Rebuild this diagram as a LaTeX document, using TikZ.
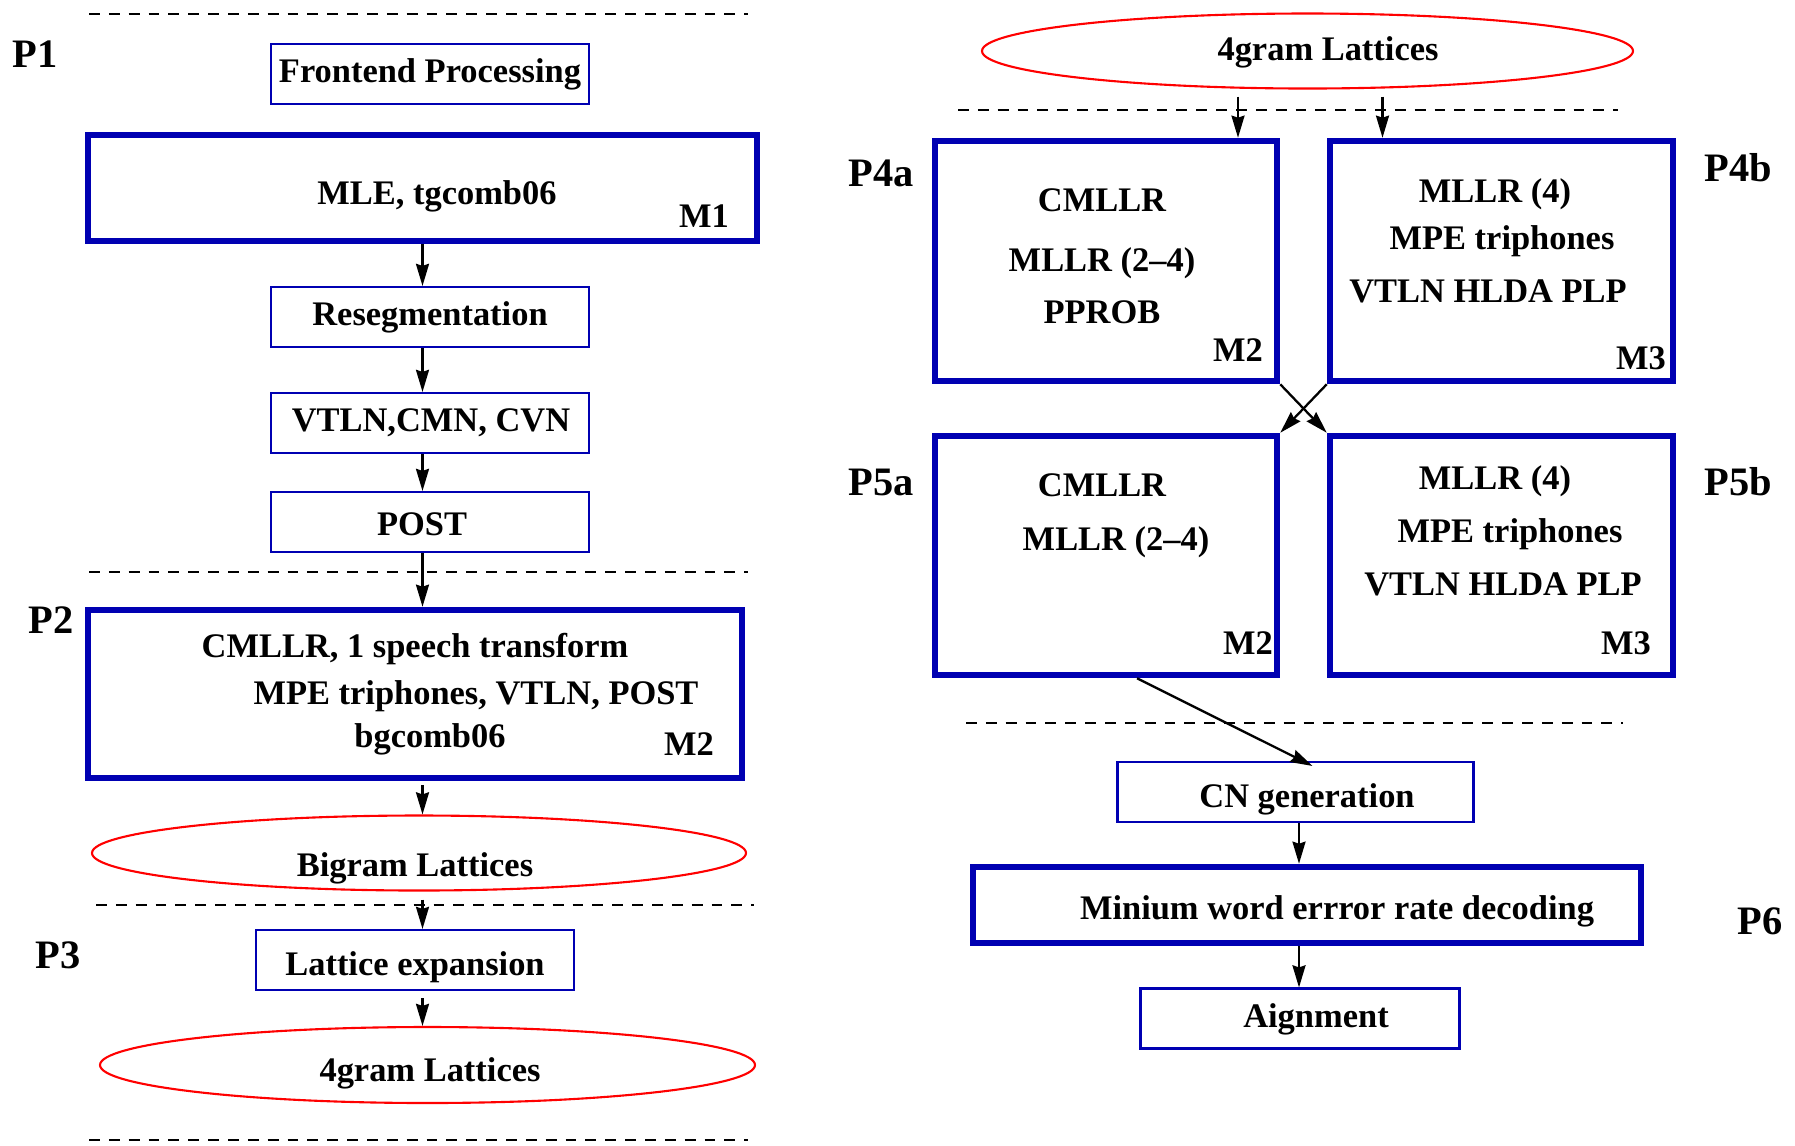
\documentclass[tikz,border=0pt]{standalone}
\usepackage{fontspec}
\setmainfont{Liberation Serif}
\usepackage{xcolor}
\usetikzlibrary{arrows.meta, positioning, calc, shapes.geometric}
\definecolor{boxblue}{RGB}{0,0,178}

\begin{document}
\begin{tikzpicture}[>={Stealth[length=6.3pt, width=3.7pt, inset=0.6pt]},
  every node/.style={font=\bfseries\fontsize{9.8}{12}\selectfont},
  thinbox/.style={draw=boxblue, line width=0.6pt, minimum width=3.18cm, minimum height=0.6cm, inner sep=0pt},
  thickbox/.style={draw=boxblue, line width=1.85pt, inner sep=0pt},
  lat/.style={draw=red, ellipse, line width=0.6pt, inner sep=0pt},
  txt/.style={anchor=base, inner sep=0pt},
  plabel/.style={anchor=base, inner sep=0pt, font=\bfseries\fontsize{11.5}{14}\selectfont},
  sep/.style={line width=0.6pt, dash pattern=on 3.1pt off 2.55pt},
  link/.style={->, line width=0.65pt}]
  \useasboundingbox (0,0) rectangle (17.95,-11.45);

  \draw[sep] (0.89,-0.14) -- (7.48,-0.14);
  \draw[sep] (0.89,-5.72) -- (7.48,-5.72);
  \draw[sep] (0.96,-9.05) -- (7.54,-9.05);
  \draw[sep] (0.89,-11.40) -- (7.48,-11.40);
  \draw[sep] (9.58,-1.10) -- (16.18,-1.10);
  \draw[sep] (9.66,-7.23) -- (16.23,-7.23);

  \node[plabel] (p1) at (0.35,-0.67) {P1};
  \node[plabel] (p2l) at (0.51,-6.33) {P2};
  \node[plabel] (p3) at (0.58,-9.68) {P3};
  \node[plabel] (p4al) at (8.81,-1.86) {P4a};
  \node[plabel] (p4bl) at (17.38,-1.81) {P4b};
  \node[plabel] (p5al) at (8.81,-4.95) {P5a};
  \node[plabel] (p5bl) at (17.38,-4.95) {P5b};
  \node[plabel] (p6) at (17.60,-9.34) {P6};

  \node[thinbox] (front) at (4.30,-0.74) {};
  \node[txt] (frontT) at (4.30,-0.82) {Frontend Processing};
  \node[thickbox, minimum width=6.69cm, minimum height=1.06cm] (m1) at (4.225,-1.88) {};
  \node[txt] (m1T) at (4.37,-2.04) {MLE, tgcomb06};
  \node[txt] (m1M) at (7.04,-2.27) {M1};
  \node[thinbox] (reseg) at (4.30,-3.17) {};
  \node[txt] (resegT) at (4.30,-3.25) {Resegmentation};
  \node[thinbox] (vtln) at (4.30,-4.23) {};
  \node[txt] (vtlnT) at (4.31,-4.31) {VTLN,CMN, CVN};
  \node[thinbox] (post) at (4.30,-5.22) {};
  \node[txt] (postT) at (4.22,-5.35) {POST};
  \node[thickbox, minimum width=6.54cm, minimum height=1.68cm] (p2) at (4.15,-6.94) {};
  \node[txt] (p2a) at (4.15,-6.57) {CMLLR, 1 speech transform};
  \node[txt] (p2b) at (4.76,-7.04) {MPE triphones, VTLN, POST};
  \node[txt] (p2c) at (4.30,-7.47) {bgcomb06};
  \node[txt] (p2M) at (6.89,-7.55) {M2};
  \node[lat, minimum width=6.54cm, minimum height=0.75cm] (bigram) at (4.19,-8.53) {};
  \node[txt] (bigramT) at (4.15,-8.76) {Bigram Lattices};
  \node[thinbox] (latexp) at (4.15,-9.60) {};
  \node[txt] (latexpT) at (4.15,-9.75) {Lattice expansion};
  \node[lat, minimum width=6.55cm, minimum height=0.76cm] (fourL) at (4.275,-10.65) {};
  \node[txt] (fourLT) at (4.30,-10.81) {4gram Lattices};

  \node[lat, minimum width=6.51cm, minimum height=0.75cm] (fourR) at (13.075,-0.51) {};
  \node[txt] (fourRT) at (13.28,-0.60) {4gram Lattices};
  \node[thickbox, minimum width=3.42cm, minimum height=2.40cm] (p4a) at (11.06,-2.61) {};
  \node[txt] (p4a1) at (11.02,-2.11) {CMLLR};
  \node[txt] (p4a2) at (11.02,-2.71) {MLLR (2--4)};
  \node[txt] (p4a3) at (11.02,-3.23) {PPROB};
  \node[txt] (p4aM) at (12.38,-3.61) {M2};
  \node[thickbox, minimum width=3.43cm, minimum height=2.40cm] (p4b) at (15.015,-2.61) {};
  \node[txt] (p4b1) at (14.95,-2.02) {MLLR (4)};
  \node[txt] (p4b2) at (15.02,-2.49) {MPE triphones};
  \node[txt] (p4b3) at (14.88,-3.02) {VTLN HLDA PLP};
  \node[txt] (p4bM) at (16.41,-3.69) {M3};
  \node[thickbox, minimum width=3.42cm, minimum height=2.39cm] (p5a) at (11.06,-5.555) {};
  \node[txt] (p5a1) at (11.02,-4.96) {CMLLR};
  \node[txt] (p5a2) at (11.16,-5.50) {MLLR (2--4)};
  \node[txt] (p5aM) at (12.48,-6.54) {M2};
  \node[thickbox, minimum width=3.43cm, minimum height=2.39cm] (p5b) at (15.015,-5.555) {};
  \node[txt] (p5b1) at (14.95,-4.89) {MLLR (4)};
  \node[txt] (p5b2) at (15.10,-5.42) {MPE triphones};
  \node[txt] (p5b3) at (15.03,-5.95) {VTLN HLDA PLP};
  \node[txt] (p5bM) at (16.26,-6.54) {M3};
  \node[thinbox, minimum width=3.56cm] (cn) at (12.955,-7.92) {};
  \node[txt] (cnT) at (13.07,-8.07) {CN generation};
  \node[thickbox, minimum width=6.68cm, minimum height=0.76cm] (mwer) at (13.07,-9.05) {};
  \node[txt] (mwerT) at (13.37,-9.19) {Minium word errror rate decoding};
  \node[thinbox, minimum width=3.19cm] (aign) at (13.00,-10.185) {};
  \node[txt] (aignT) at (13.16,-10.27) {Aignment};

  \coordinate (axL) at (4.225,0);
  \coordinate (axR) at (12.99,0);
  \coordinate (ax4a) at (12.38,0);
  \coordinate (ax4b) at (13.825,0);

  \draw[link] (m1.south -| axL) -- (reseg.north -| axL);
  \draw[link] (reseg.south -| axL) -- (vtln.north -| axL);
  \draw[link] (vtln.south -| axL) -- (post.north -| axL);
  \draw[link] (post.south -| axL) -- (p2.north -| axL);
  \draw[link, shorten <=0.04cm] (p2.south -| axL) -- (bigram.north -| axL);
  \draw[link, shorten <=0.08cm] (bigram.south -| axL) -- (latexp.north -| axL);
  \draw[link, shorten <=0.07cm] (latexp.south -| axL) -- (fourL.north -| axL);
  \draw[link, shorten <=0.07cm] (fourR.south -| ax4a) -- (p4a.north -| ax4a);
  \draw[link, shorten <=0.07cm] (fourR.south -| ax4b) -- (p4b.north -| ax4b);
  \draw[link] (p4a.south east) -- (p5b.north west);
  \draw[link] (p4b.south west) -- (p5a.north east);
  \draw[link] ([xshift=0.31cm]p5a.south) -- ([xshift=0.17cm, yshift=-0.05cm]cn.north);
  \draw[link] (cn.south -| axR) -- (mwer.north -| axR);
  \draw[link] (mwer.south -| axR) -- (aign.north -| axR);
\end{tikzpicture}
\end{document}
